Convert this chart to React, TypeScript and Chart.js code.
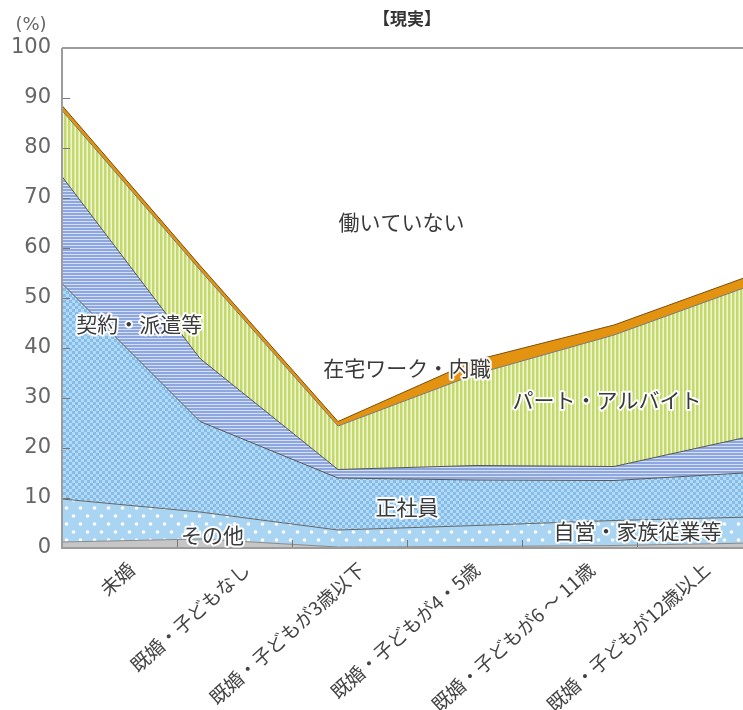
import React, { useEffect, useRef } from "react";
import { Chart, registerables } from "chart.js";
Chart.register(...registerables);

// ---- data ----
const categories = [
  "未婚",
  "既婚・子どもなし",
  "既婚・子どもが3歳以下",
  "既婚・子どもが4・5歳",
  "既婚・子どもが6 ～ 11歳",
  "既婚・子どもが12歳以上",
];
const seriesNames = ["その他", "自営・家族従業等", "正社員", "契約・派遣等", "パート・アルバイト", "在宅ワーク・内職"];
const sonota = [1.2, 1.8, 0.2, 0.3, 0.5, 1.0];
const jiei = [8.6, 5.4, 3.4, 4.2, 5.0, 5.2];
const seishain = [43.1, 18.1, 10.4, 9.1, 8.0, 8.9];
const keiyaku = [21.4, 12.6, 1.7, 2.9, 2.8, 7.3];
const part = [13.2, 17.7, 8.7, 18.3, 26.3, 30.2];
const zaitaku = [1.0, 0.9, 0.9, 2.8, 2.0, 2.0];
const yTicks = [0, 10, 20, 30, 40, 50, 60, 70, 80, 90, 100];

// area labels (data units: category index, percent)
const annotationTexts = ["働いていない", "契約・派遣等", "在宅ワーク・内職", "パート・アルバイト", "正社員", "自営・家族従業等", "その他"];
const annotationX = [2.46, 0.56, 2.5, 3.95, 2.5, 4.17, 1.09];
const annotationY = [65.2, 44.8, 36, 29.6, 8.2, 3.4, 2.6];

const titleText = "【現実】";
const unitText = "(%)";

// ---- styles ----
function makePattern(w: number, h: number, draw: (g: CanvasRenderingContext2D) => void) {
  const c = document.createElement("canvas");
  c.width = w;
  c.height = h;
  const g = c.getContext("2d")!;
  draw(g);
  return g.createPattern(c, "repeat")!;
}

function buildFills() {
  const gray = "#c6c6c6";
  const dots = makePattern(14, 16, (g) => {
    g.fillStyle = "#a9d5f3";
    g.fillRect(0, 0, 14, 16);
    g.fillStyle = "#ffffff";
    g.beginPath();
    g.arc(3.5, 4, 1.8, 0, Math.PI * 2);
    g.fill();
    g.beginPath();
    g.arc(10.5, 12, 1.8, 0, Math.PI * 2);
    g.fill();
  });
  const checker = makePattern(6, 6, (g) => {
    g.fillStyle = "#84bdea";
    g.fillRect(0, 0, 6, 6);
    g.fillStyle = "#b4d9f5";
    g.fillRect(0, 0, 3, 3);
    g.fillRect(3, 3, 3, 3);
  });
  const hstripes = makePattern(4, 3, (g) => {
    g.fillStyle = "#8ea7de";
    g.fillRect(0, 0, 4, 2);
    g.fillStyle = "#d4def4";
    g.fillRect(0, 2, 4, 1);
  });
  const vstripes = makePattern(4, 4, (g) => {
    g.fillStyle = "#c3d96c";
    g.fillRect(0, 0, 2, 4);
    g.fillStyle = "#dbe8a4";
    g.fillRect(2, 0, 1, 4);
    g.fillStyle = "#eff5d2";
    g.fillRect(3, 0, 1, 4);
  });
  const orange = "#e3930f";
  return [gray, dots, checker, hstripes, vstripes, orange];
}
const borderColors = ["#8a8a8a", "#666666", "#555555", "#555555", "#777777", "#7a4f0c"];

const FONT_JP = "'Noto Sans CJK JP', 'Noto Sans', sans-serif";
const FONT_NUM = "'DejaVu Sans', sans-serif";

const overlayPlugin = {
  id: "overlay",
  afterDatasetsDraw(chart: any) {
    const { ctx, chartArea } = chart;
    const { left, right, top, bottom } = chartArea;
    const xs = chart.scales.x;
    const ys = chart.scales.y;
    ctx.save();
    // inner tick marks
    ctx.strokeStyle = "#777";
    ctx.lineWidth = 1;
    yTicks.forEach((t) => {
      if (t === 0 || t === 100) return;
      const y = Math.round(ys.getPixelForValue(t)) + 0.5;
      ctx.beginPath();
      ctx.moveTo(left, y);
      ctx.lineTo(left + 8, y);
      ctx.stroke();
    });
    const n = categories.length;
    for (let i = 1; i < n; i++) {
      const x = Math.round(left + ((right - left) * i) / n) + 0.5;
      ctx.beginPath();
      ctx.moveTo(x, bottom);
      ctx.lineTo(x, bottom - 8);
      ctx.stroke();
    }
    // axes frame
    ctx.strokeStyle = "#9c9c9c";
    ctx.lineWidth = 2;
    ctx.beginPath();
    ctx.moveTo(left, top);
    ctx.lineTo(chart.width, top);
    ctx.moveTo(left, top);
    ctx.lineTo(left, bottom);
    ctx.lineTo(chart.width, bottom);
    ctx.stroke();

    // area labels
    ctx.font = `21px ${FONT_JP}`;
    ctx.textAlign = "center";
    ctx.textBaseline = "middle";
    ctx.lineJoin = "round";
    annotationTexts.forEach((t, i) => {
      const x = xs.getPixelForValue(annotationX[i]);
      const y = ys.getPixelForValue(annotationY[i]);
      ctx.strokeStyle = "rgba(255,255,255,0.95)";
      ctx.lineWidth = 4;
      ctx.strokeText(t, x, y);
      ctx.fillStyle = "#3a3a3a";
      ctx.fillText(t, x, y);
    });

    // title & unit
    ctx.fillStyle = "#333";
    ctx.font = `bold 17px ${FONT_JP}`;
    ctx.fillText(titleText, (left + right) / 2, 19);
    ctx.font = `18px ${FONT_NUM}`;
    ctx.fillStyle = "#666";
    ctx.fillText(unitText, 31, 25);
    ctx.restore();
  },
};

export default function App() {
  const ref = useRef<HTMLCanvasElement | null>(null);
  useEffect(() => {
    if (!ref.current) return;
    const fills = buildFills();
    const seriesValues = [sonota, jiei, seishain, keiyaku, part, zaitaku];
    const datasets = seriesValues.map((vals, i) => ({
      label: seriesNames[i],
      data: vals.map((v, j) => ({ x: j, y: v })),
      backgroundColor: fills[i],
      borderColor: borderColors[i],
      borderWidth: 1,
      pointRadius: 0,
      tension: 0,
      fill: i === 0 ? "origin" : "-1",
      xAxisID: "x",
      yAxisID: "y",
    }));
    const chart = new Chart(ref.current, {
      type: "line",
      data: { datasets },
      options: {
        animation: false,
        responsive: false,
        layout: { padding: { top: 48, left: 0, right: 8, bottom: 0 } },
        plugins: { legend: { display: false }, tooltip: { enabled: false }, title: { display: false } },
        scales: {
          x: {
            type: "linear",
            display: false,
            min: 0,
            max: categories.length - 1,
          },
          xc: {
            type: "category",
            labels: categories,
            position: "bottom",
            offset: true,
            grid: { display: false, drawTicks: false },
            border: { display: false },
            ticks: {
              autoSkip: false,
              minRotation: 42,
              maxRotation: 42,
              padding: 10,
              labelOffset: 12,
              color: "#444",
              font: { family: FONT_JP, size: 19 },
            },
            afterFit: (s: any) => {
              s.height = 162;
            },
          },
          y: {
            type: "linear",
            stacked: true,
            min: 0,
            max: 100,
            grid: { display: false, drawTicks: false },
            border: { display: false },
            ticks: {
              stepSize: 10,
              padding: 11,
              color: "#666",
              font: { family: FONT_NUM, size: 21 },
            },
            afterFit: (s: any) => {
              s.width = 62;
            },
          },
        },
      },
      plugins: [overlayPlugin],
    } as any);
    return () => chart.destroy();
  }, []);
  return (
    <div
      style={{
        position: "fixed",
        left: 0,
        top: 0,
        width: 743,
        height: 710,
        overflow: "hidden",
        background: "#fff",
      }}
    >
      <canvas ref={ref} width={760} height={710} style={{ display: "block" }} />
    </div>
  );
}
